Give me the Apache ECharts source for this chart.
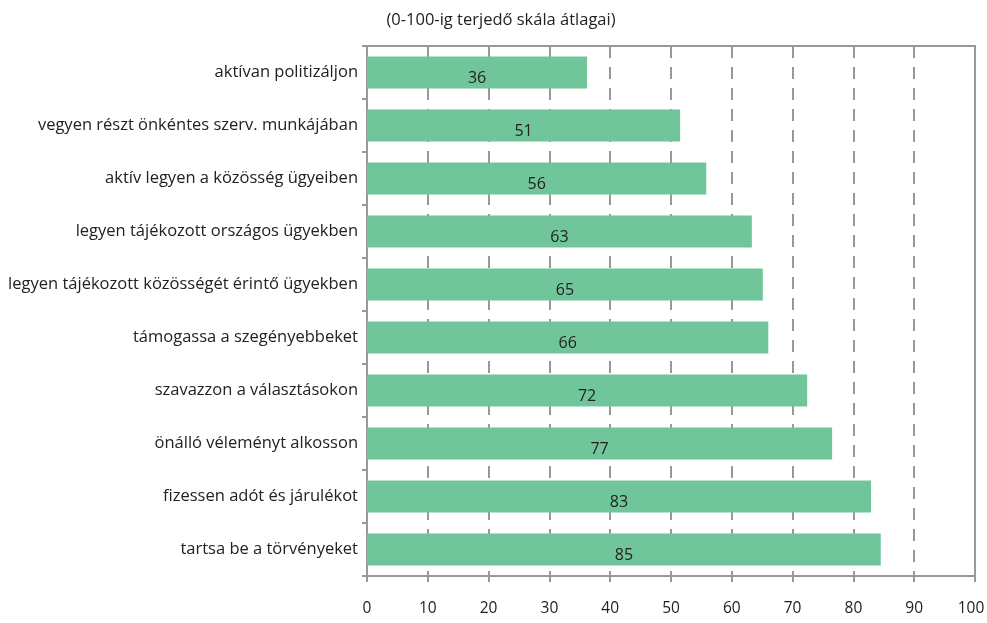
<!DOCTYPE html>
<html>
<head>
<meta charset="utf-8">
<script src="https://cdn.jsdelivr.net/npm/echarts@6/dist/echarts.min.js"></script>
<style>
  html, body { margin: 0; padding: 0; background: #fff; }
  #chart { width: 987px; height: 623px; }
</style>
</head>
<body>
<div id="chart"></div>
<script>
var categories = [
  'aktívan politizáljon',
  'vegyen részt önkéntes szerv. munkájában',
  'aktív legyen a közösség ügyeiben',
  'legyen tájékozott országos ügyekben',
  'legyen tájékozott közösségét érintő ügyekben',
  'támogassa a szegényebbeket',
  'szavazzon a választásokon',
  'önálló véleményt alkosson',
  'fizessen adót és járulékot',
  'tartsa be a törvényeket'
];
var values = [36.2, 51.5, 55.8, 63.3, 65.1, 66.0, 72.4, 76.5, 82.9, 84.5];
var shown = [36, 51, 56, 63, 65, 66, 72, 77, 83, 85];

var chart = echarts.init(document.getElementById('chart'));
var font = 'Open Sans';

var option = {
  animation: false,
  title: {
    text: '(0-100-ig terjedő skála átlagai)',
    left: 496,
    top: 7,
    textAlign: 'center',
    textStyle: { fontFamily: font, fontSize: 16.5, fontWeight: 'normal', color: '#222' }
  },
  grid: {
    left: 367, right: 12, top: 46, bottom: 47,
    outerBoundsMode: 'none',
    containLabel: false,
    show: true, borderColor: '#999', borderWidth: 2
  },
  xAxis: {
    type: 'value',
    min: 0, max: 100, interval: 10,
    axisLine: { show: true, lineStyle: { color: '#999', width: 2 } },
    axisTick: { show: true, length: 6, lineStyle: { color: '#999', width: 2 } },
    axisLabel: {
      fontFamily: font, fontSize: 15.5, color: '#222', margin: 25,
      // last label pulled a little left so it stays on the page
      formatter: function (v) { return v === 100 ? '{m|100}' : String(v); },
      rich: { m: { fontFamily: font, fontSize: 15.5, color: '#222', padding: [0, 8, 0, 0] } }
    },
    splitLine: { show: true, lineStyle: { color: '#999', width: 2, type: [12, 9] } }
  },
  yAxis: {
    type: 'category',
    inverse: true,
    data: categories,
    axisLine: { show: true, lineStyle: { color: '#999', width: 2 } },
    axisTick: { show: true, length: 5, lineStyle: { color: '#999', width: 2 } },
    axisLabel: { fontFamily: font, fontSize: 16.5, color: '#222', margin: 9 }
  },
  series: [{
    type: 'bar',
    data: values,
    barWidth: 32,
    itemStyle: { color: '#70C69A' },
    label: {
      show: true,
      position: 'inside',
      offset: [0, 6],
      fontFamily: font,
      fontSize: 16,
      color: '#222',
      formatter: function (p) { return shown[p.dataIndex]; }
    }
  }]
};
chart.setOption(option);
</script>
</body>
</html>
